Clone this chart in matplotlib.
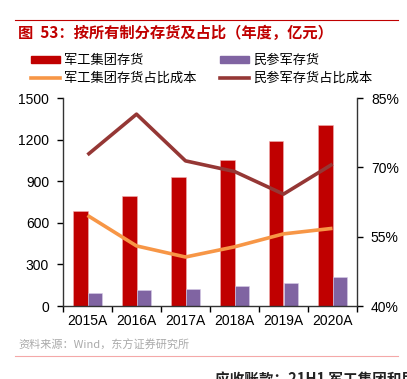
import numpy as np
import matplotlib
matplotlib.use('Agg')
import matplotlib.pyplot as plt
from matplotlib.patches import Patch
from matplotlib.lines import Line2D

plt.rcParams['font.family'] = ['Liberation Sans', 'Noto Sans CJK SC', 'DejaVu Sans']
plt.rcParams['axes.unicode_minus'] = False

years = ['2015A', '2016A', '2017A', '2018A', '2019A', '2020A']
jg_inv = [687, 791, 928, 1051, 1188, 1305]        # 军工集团存货
mc_inv = [94, 113, 123, 142, 168, 209]            # 民参军存货
jg_ratio = [59.6, 53.0, 50.6, 52.8, 55.6, 56.8]   # 军工集团存货占比成本 (%)
mc_ratio = [72.7, 81.5, 71.4, 69.1, 64.2, 70.7]   # 民参军存货占比成本 (%)

c_red = '#C00000'
c_purple = '#8064A2'
c_orange = '#F79646'
c_brown = '#953735'
cjk = ['Noto Sans CJK SC', 'DejaVu Sans']

fig = plt.figure(figsize=(4.07, 3.79), dpi=100)
ax = fig.add_axes([63/407, 1-306/379, 294/407, 208/379])
ax2 = ax.twinx()

x = np.arange(len(years))
w = 0.29
ax.bar(x - w/2, jg_inv, w, color=c_red, edgecolor='#f0b0b0', linewidth=0.4, zorder=2)
ax.bar(x + w/2, mc_inv, w, color=c_purple, edgecolor='#d8cce8', linewidth=0.4, zorder=2)
ax.set_ylim(0, 1500)
ax.set_yticks([0, 300, 600, 900, 1200, 1500])
ax.set_xlim(-0.5, len(years) - 0.5)
ax.set_xticks(x)
ax.set_xticklabels(years)
ax.set_xticks(np.arange(-0.5, len(years)), minor=True)
ax.tick_params(axis='x', which='major', length=0, labelsize=10, pad=6)
ax.tick_params(axis='x', which='minor', length=4, direction='out', width=1)
ax.tick_params(axis='y', length=4, direction='out', width=1, labelsize=10, pad=6)

ax2.plot(x, jg_ratio, color=c_orange, lw=2.6, solid_capstyle='butt', zorder=3)
ax2.plot(x, mc_ratio, color=c_brown, lw=2.6, solid_capstyle='butt', zorder=3)
ax2.set_ylim(40, 85)
ax2.set_yticks([40, 55, 70, 85])
ax2.set_yticklabels(['40%', '55%', '70%', '85%'])
ax2.tick_params(axis='y', length=4, direction='out', width=1, labelsize=10, pad=6)

for a in (ax, ax2):
    a.spines['top'].set_visible(False)
    for s in ('left', 'right', 'bottom'):
        a.spines[s].set_color('#333333')
        a.spines[s].set_linewidth(1)
ax.spines['right'].set_visible(False)
ax2.spines['left'].set_visible(False)
ax2.spines['bottom'].set_visible(False)

# header
fig.add_artist(Line2D([15/407, 398/407], [1-20/379, 1-20/379], color='#C00000', lw=0.8))
fig.text(18/407, 1-33/379, '图  53：按所有制分存货及占比（年度，亿元）', color='#C00000',
         fontsize=11, fontweight='bold', va='center', ha='left', family=cjk)

handles = [Patch(color=c_red), Line2D([], [], color=c_orange, lw=2.6),
           Patch(color=c_purple), Line2D([], [], color=c_brown, lw=2.6)]
labels = ['军工集团存货', '军工集团存货占比成本', '民参军存货', '民参军存货占比成本']
fig.legend(handles, labels, ncol=2, loc='upper left', bbox_to_anchor=(31/407, 1-54/379),
           frameon=False, handlelength=2.2, handleheight=0.4,
           handletextpad=0.3, columnspacing=1.8, labelspacing=0.35,
           borderaxespad=0, borderpad=0,
           prop={'family': cjk, 'size': 9.5})

fig.text(18/407, 1-345/379, '资料来源：Wind，东方证券研究所', color='#aaaaaa', fontsize=8,
         va='center', family=cjk)
fig.add_artist(Line2D([15/407, 398/407], [1-356/379, 1-356/379], color='#f4a8a8', lw=0.8))
fig.text(215/407, 1-379/379, '应收账款：21H1 军工集团和民参军', color='#222222', fontsize=10.5,
         fontweight='bold', va='center', family=cjk)

fig.savefig('out.png', dpi=100)
